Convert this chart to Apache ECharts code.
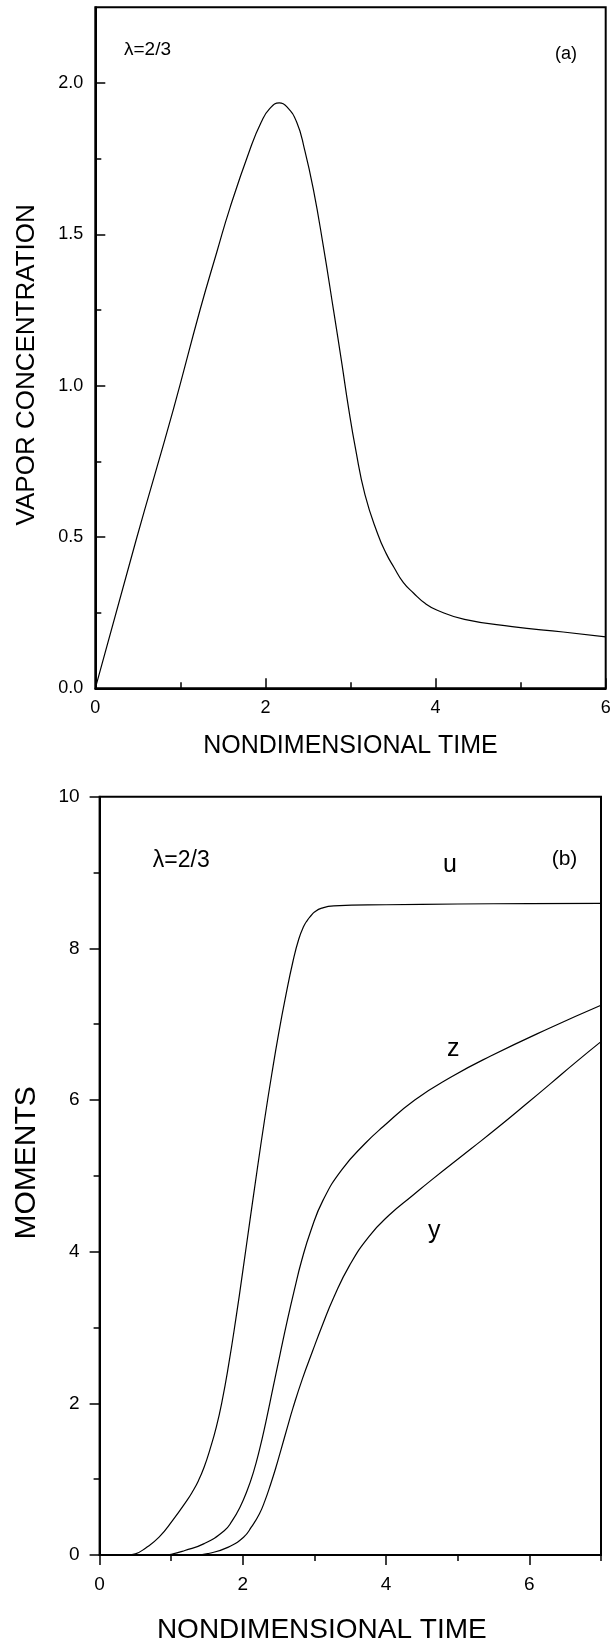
<!DOCTYPE html>
<html>
<head>
<meta charset="utf-8">
<script src="https://cdn.jsdelivr.net/npm/echarts@6/dist/echarts.min.js"></script>
<style>
html,body{margin:0;padding:0;background:#fff;}
#chart{width:615px;height:1642px;}
</style>
</head>
<body>
<div id="chart"></div>
<script>
// ---- Data ----
// Panel (a): vapor concentration vs nondimensional time
var timeA = [0, 0.48, 0.917, 1.231, 1.427, 1.586, 1.819, 1.95, 2.05, 2.163, 2.25, 2.368, 2.46, 2.563, 2.681, 2.80, 2.90, 2.975, 3.06, 3.17, 3.32, 3.42, 3.51, 3.62, 3.74, 3.88, 4.02, 4.34, 4.9, 5.5, 6.0];
var vapor = [0, 0.49, 0.921, 1.25, 1.44, 1.59, 1.781, 1.87, 1.915, 1.934, 1.922, 1.87, 1.78, 1.649, 1.46, 1.25, 1.07, 0.93, 0.79, 0.64, 0.51, 0.445, 0.40, 0.35, 0.315, 0.28, 0.258, 0.228, 0.204, 0.186, 0.17];

// Panel (b): moments u, z, y vs nondimensional time
var timeU = [0, 0.4, 0.5, 0.64, 0.83, 1.02, 1.22, 1.30, 1.38, 1.46, 1.54, 1.63, 1.71, 1.80, 1.90, 2.0, 2.1, 2.2, 2.3, 2.4, 2.5, 2.6, 2.7, 2.78, 2.85, 2.9, 2.95, 3.0, 3.1, 3.27, 4.0, 5.0, 6.0, 7.0];
var momentU = [0, 0, 0.015, 0.09, 0.235, 0.456, 0.72, 0.84, 0.98, 1.16, 1.39, 1.69, 2.03, 2.5, 3.1, 3.75, 4.42, 5.08, 5.72, 6.32, 6.88, 7.38, 7.83, 8.12, 8.29, 8.37, 8.43, 8.48, 8.53, 8.56, 8.575, 8.585, 8.59, 8.593];

var timeZ = [0, 0.9, 1.0, 1.19, 1.46, 1.74, 1.85, 1.96, 2.06, 2.15, 2.23, 2.32, 2.42, 2.52, 2.62, 2.72, 2.82, 2.95, 3.12, 3.38, 3.71, 3.96, 4.40, 4.92, 5.46, 6.285, 7.0];
var momentZ = [0, 0, 0.01, 0.06, 0.15, 0.32, 0.45, 0.63, 0.85, 1.1, 1.38, 1.75, 2.2, 2.65, 3.09, 3.5, 3.88, 4.28, 4.68, 5.08, 5.43, 5.65, 6.0, 6.31, 6.58, 6.95, 7.25];

var timeY = [0, 1.35, 1.52, 1.79, 2.01, 2.12, 2.23, 2.31, 2.39, 2.46, 2.53, 2.62, 2.70, 2.83, 2.97, 3.11, 3.27, 3.49, 3.76, 4.04, 4.37, 4.64, 5.19, 5.55, 5.96, 6.3, 6.65, 7.0];
var momentY = [0, 0, 0.02, 0.10, 0.235, 0.37, 0.54, 0.72, 0.94, 1.15, 1.38, 1.68, 1.94, 2.32, 2.68, 3.03, 3.40, 3.82, 4.2, 4.48, 4.74, 4.95, 5.36, 5.63, 5.95, 6.22, 6.5, 6.77];

// Tick values
var ticksXA = [0, 2, 4, 6];
var minorXA = [1, 3, 5];
var ticksYA = [0, 0.5, 1.0, 1.5, 2.0];
var minorYA = [0.25, 0.75, 1.25, 1.75];
var ticksXB = [0, 2, 4, 6];
var minorXB = [1, 3, 5, 7];
var ticksYB = [0, 2, 4, 6, 8, 10];
var minorYB = [1, 3, 5, 7, 9];

function pairs(xs, ys) { return xs.map(function (x, i) { return [x, ys[i]]; }); }

var FONT = "'Liberation Sans', Arial, Helvetica, sans-serif";
var BLACK = '#000';

function majorAxis(opts) {
  return {
    type: 'value', gridIndex: opts.grid, min: opts.min, max: opts.max, position: opts.position,
    axisLine: { show: true, onZero: false, lineStyle: { color: BLACK, width: 2 } },
    axisTick: { show: true, inside: opts.inside, length: 10, customValues: opts.ticks, lineStyle: { color: BLACK, width: 1.5 } },
    axisLabel: { show: true, customValues: opts.ticks, margin: opts.margin, fontSize: opts.labelSize, color: BLACK, fontFamily: FONT,
                 formatter: opts.formatter },
    splitLine: { show: false },
    minorTick: { show: false },
    name: opts.name, nameLocation: 'middle', nameGap: opts.nameGap, nameMoveOverlap: false,
    nameTextStyle: opts.nameStyle
  };
}
function minorAxis(opts) {
  return {
    type: 'value', gridIndex: opts.grid, min: opts.min, max: opts.max, position: opts.position,
    axisLine: { show: false, onZero: false },
    axisTick: { show: true, inside: opts.inside, length: 6, customValues: opts.ticks, lineStyle: { color: BLACK, width: 1.5 } },
    axisLabel: { show: false },
    splitLine: { show: false },
    minorTick: { show: false }
  };
}

var chart = echarts.init(document.getElementById('chart'), null, { renderer: 'canvas', width: 615, height: 1642 });

var lineStyle = { color: BLACK, width: 1.2 };

var option = {
  backgroundColor: '#fff',
  animation: false,
  grid: [
    { left: 95.3, top: 7.3, width: 510.4, height: 681, show: true, borderColor: BLACK, borderWidth: 2, backgroundColor: 'transparent', containLabel: false, outerBoundsMode: 'none' },
    { left: 99.6, top: 796.7, width: 501.4, height: 758.3, show: true, borderColor: BLACK, borderWidth: 2, backgroundColor: 'transparent', containLabel: false, outerBoundsMode: 'none' }
  ],
  xAxis: [
    majorAxis({ grid: 0, min: 0, max: 6, position: 'bottom', inside: true, ticks: ticksXA, margin: 11, labelSize: 18,
      name: 'NONDIMENSIONAL TIME', nameGap: 45,
      nameStyle: { fontSize: 25, color: BLACK, fontFamily: FONT } }),
    minorAxis({ grid: 0, min: 0, max: 6, position: 'bottom', inside: true, ticks: minorXA }),
    majorAxis({ grid: 1, min: 0, max: 7, position: 'bottom', inside: false, ticks: ticksXB, margin: 20, labelSize: 19,
      name: 'NONDIMENSIONAL TIME', nameGap: 61,
      nameStyle: { fontSize: 28, color: BLACK, fontFamily: FONT, padding: [0, 57, 0, 0] } }),
    minorAxis({ grid: 1, min: 0, max: 7, position: 'bottom', inside: false, ticks: minorXB })
  ],
  yAxis: [
    majorAxis({ grid: 0, min: 0, max: 2.25, position: 'left', inside: true, ticks: ticksYA, margin: 12, labelSize: 18,
      formatter: function (v) { return v.toFixed(1); },
      name: 'VAPOR CONCENTRATION', nameGap: 55,
      nameStyle: { fontSize: 26, color: BLACK, fontFamily: FONT, padding: [0, 34, 0, 0] } }),
    minorAxis({ grid: 0, min: 0, max: 2.25, position: 'left', inside: true, ticks: minorYA }),
    majorAxis({ grid: 1, min: 0, max: 10, position: 'left', inside: false, ticks: ticksYB, margin: 20, labelSize: 19,
      name: 'MOMENTS', nameGap: 58,
      nameStyle: { fontSize: 30, color: BLACK, fontFamily: FONT, padding: [0, 0, 0, 26] } }),
    minorAxis({ grid: 1, min: 0, max: 10, position: 'left', inside: false, ticks: minorYB })
  ],
  series: [
    { name: 'vapor', type: 'line', xAxisIndex: 0, yAxisIndex: 0, data: pairs(timeA, vapor),
      showSymbol: false, smooth: 0.5, lineStyle: lineStyle, silent: true },
    { name: 'u', type: 'line', xAxisIndex: 2, yAxisIndex: 2, data: pairs(timeU, momentU),
      showSymbol: false, smooth: 0.5, lineStyle: lineStyle, silent: true },
    { name: 'z', type: 'line', xAxisIndex: 2, yAxisIndex: 2, data: pairs(timeZ, momentZ),
      showSymbol: false, smooth: 0.5, lineStyle: lineStyle, silent: true },
    { name: 'y', type: 'line', xAxisIndex: 2, yAxisIndex: 2, data: pairs(timeY, momentY),
      showSymbol: false, smooth: 0.5, lineStyle: lineStyle, silent: true }
  ],
  graphic: [
    { type: 'text', left: 124, top: 49.5 - 9.5, style: { text: 'λ=2/3', fontSize: 19, fill: BLACK, fontFamily: FONT } },
    { type: 'text', left: 555, top: 54 - 9, style: { text: '(a)', fontSize: 18, fill: BLACK, fontFamily: FONT } },
    { type: 'text', left: 152.8, top: 861 - 11.5, style: { text: 'λ=2/3', fontSize: 23, fill: BLACK, fontFamily: FONT } },
    { type: 'text', left: 551.7, top: 859 - 10.5, style: { text: '(b)', fontSize: 21, fill: BLACK, fontFamily: FONT } },
    { type: 'text', left: 443, top: 865 - 12.5, style: { text: 'u', fontSize: 25, fill: BLACK, fontFamily: FONT } },
    { type: 'text', left: 447, top: 1049 - 12.5, style: { text: 'z', fontSize: 25, fill: BLACK, fontFamily: FONT } },
    { type: 'text', left: 428, top: 1231.5 - 12.5, style: { text: 'y', fontSize: 25, fill: BLACK, fontFamily: FONT } }
  ]
};
chart.setOption(option);
</script>
</body>
</html>
